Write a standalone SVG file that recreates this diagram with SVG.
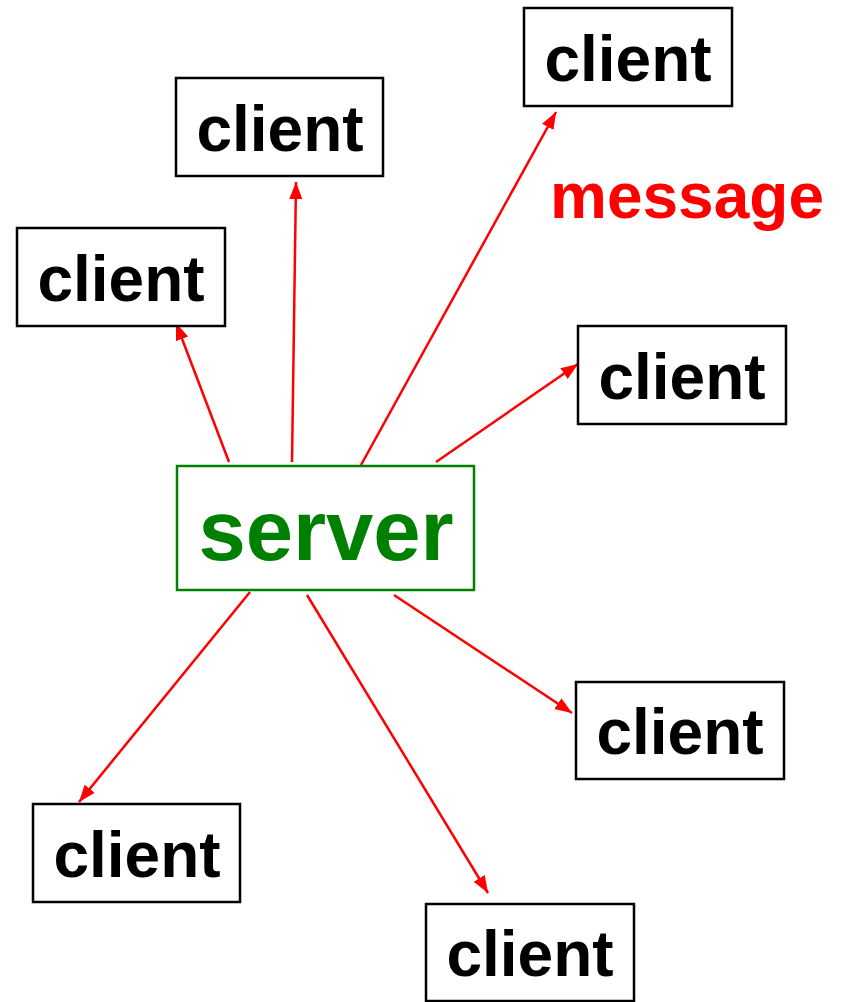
<svg xmlns="http://www.w3.org/2000/svg" width="848" height="1002" viewBox="0 0 848 1002">
  <style>
    .client rect { fill: #ffffff; stroke: #000000; stroke-width: 2.5; }
    .client text { font-family: "Liberation Sans", Arial, sans-serif; font-weight: bold; font-size: 64px; fill: #000000; text-anchor: middle; }
    .server rect { fill: #ffffff; stroke: #008000; stroke-width: 2.5; }
    .server text { font-family: "Liberation Sans", Arial, sans-serif; font-weight: bold; font-size: 85px; fill: #008000; text-anchor: middle; }
    .label { font-family: "Liberation Sans", Arial, sans-serif; font-weight: bold; font-size: 64px; fill: #ff0000; }
    .edge { stroke: #ff0000; stroke-width: 2.5; fill: none; marker-end: url(#arrow); }
  </style>
  <defs>
    <marker id="arrow" markerUnits="userSpaceOnUse" markerWidth="18" markerHeight="14" refX="17" refY="6.5" orient="auto">
      <path d="M0,0 L17,6.5 L0,13 z" fill="#ff0000"/>
    </marker>
  </defs>
  <rect width="848" height="1002" fill="#ffffff"/>

  <!-- broadcast connectors from the server -->
  <g id="connectors">
    <line class="edge" x1="229" y1="462" x2="176" y2="323"/>
    <line class="edge" x1="292" y1="462" x2="296" y2="182"/>
    <line class="edge" x1="361" y1="465" x2="556" y2="112"/>
    <line class="edge" x1="436" y1="462" x2="578" y2="364"/>
    <line class="edge" x1="250" y1="592" x2="79" y2="802"/>
    <line class="edge" x1="307" y1="595" x2="488" y2="893"/>
    <line class="edge" x1="394" y1="595" x2="572" y2="713"/>
  </g>

  <g id="server" class="server">
    <rect x="177" y="466" width="297" height="124"/>
    <text x="326" y="560">server</text>
  </g>

  <g id="client-top-right" class="client">
    <rect x="524" y="8" width="208" height="98"/>
    <text x="628" y="81">client</text>
  </g>
  <g id="client-top" class="client">
    <rect x="176" y="78" width="207" height="98"/>
    <text x="280" y="151">client</text>
  </g>
  <g id="client-left" class="client">
    <rect x="17" y="228" width="208" height="98"/>
    <text x="121" y="301">client</text>
  </g>
  <g id="client-right" class="client">
    <rect x="578" y="326" width="208" height="98"/>
    <text x="682" y="399">client</text>
  </g>
  <g id="client-right-lower" class="client">
    <rect x="576" y="682" width="208" height="97"/>
    <text x="680" y="754">client</text>
  </g>
  <g id="client-bottom-left" class="client">
    <rect x="33" y="804" width="207" height="98"/>
    <text x="137" y="877">client</text>
  </g>
  <g id="client-bottom" class="client">
    <rect x="426" y="904" width="208" height="97"/>
    <text x="530" y="976">client</text>
  </g>

  <text class="label" x="550" y="218">message</text>
</svg>
